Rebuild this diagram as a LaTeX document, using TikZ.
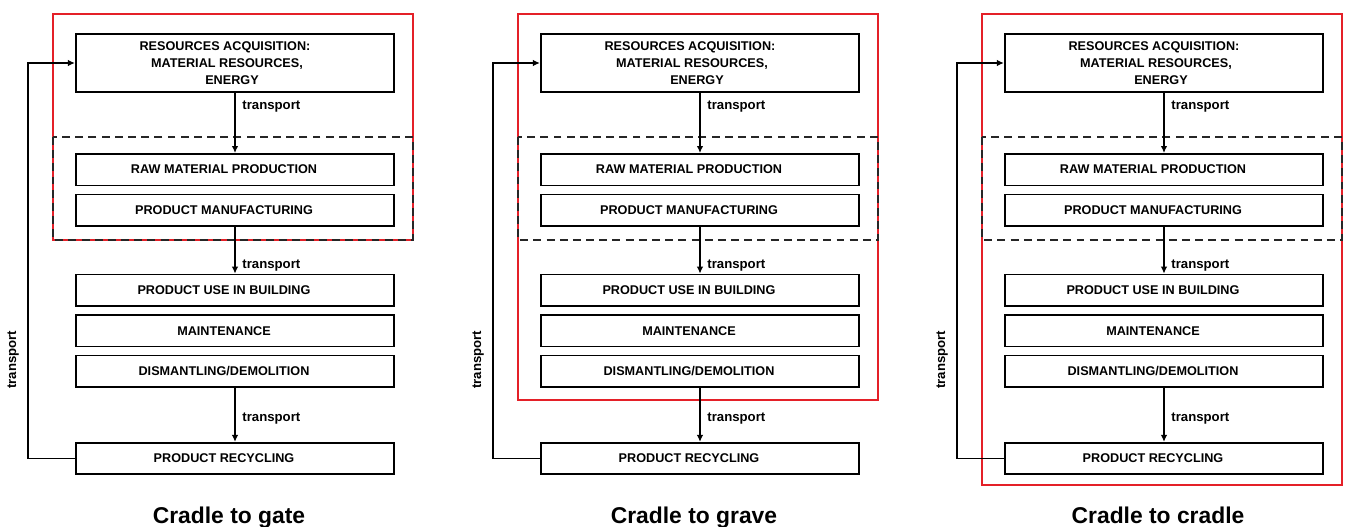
\documentclass[tikz,border=0pt]{standalone}
\usepackage{fontspec}
\setmainfont{Liberation Sans}
\usepackage{xcolor}
\usepackage{tikz}
\usetikzlibrary{arrows.meta,positioning,calc}

\definecolor{lcared}{RGB}{228,32,40}

\begin{document}
\begin{tikzpicture}[node distance=0.15cm,
    every node/.style={font=\bfseries\fontsize{7.2}{9.8}\selectfont},
    stage/.style={draw, line width=0.9pt, minimum width=6.37cm, minimum height=0.63cm, inner sep=1pt, align=center},
    offset/.style={execute at end node={\rule{0.44cm}{0pt}}},
    flow/.style={line width=0.8pt, -{Latex[length=1.4mm,width=1.3mm]}},
    lbl/.style={font=\bfseries\fontsize{7.5}{8}\selectfont, inner sep=1pt},
    limit/.style={draw=lcared, line width=1.1pt},
    phase/.style={draw=black!85, line width=1.2pt, dash pattern=on 4.5pt off 3pt},
    caption/.style={font=\bfseries\fontsize{13}{15}\selectfont, anchor=base}]
  \useasboundingbox (0,0) rectangle (26.92,-10.54);

  % cradle to gate
  \node (res1) [stage, minimum height=1.17cm] at (4.70,-1.26) {RESOURCES ACQUISITION:\rule{0.4cm}{0pt}\\ MATERIAL RESOURCES,\rule{0.32cm}{0pt}\\ ENERGY\rule{0.12cm}{0pt}};
  \node (raw1) [stage, offset, below=1.2cm of res1] {RAW MATERIAL PRODUCTION};
  \node (man1) [stage, offset, below=of raw1] {PRODUCT MANUFACTURING};
  \node (use1) [stage, offset, below=0.94cm of man1] {PRODUCT USE IN BUILDING};
  \node (mnt1) [stage, offset, below=of use1] {MAINTENANCE};
  \node (dem1) [stage, offset, below=of mnt1] {DISMANTLING/DEMOLITION};
  \node (rec1) [stage, offset, below=1.08cm of dem1] {PRODUCT RECYCLING};
  \node (cap1) [caption] at ($(rec1.south)+(-0.12,-0.96)$) {Cradle to gate};
  \draw[limit] ($(res1.north west)+(-0.44,0.38)$) rectangle ($(man1.south east)+(0.36,-0.27)$);
  \draw[phase] ($(raw1.north west)+(-0.44,0.32)$) rectangle ($(man1.south east)+(0.36,-0.27)$);
  \draw[flow] (res1) -- node[lbl, pos=0.22, right=0.1cm] {transport} (raw1);
  \draw[flow] (man1) -- node[lbl, pos=0.83, right=0.1cm] {transport} (use1);
  \draw[flow] (dem1) -- node[lbl, pos=0.56, right=0.1cm] {transport} (rec1);
  \draw[flow] (rec1.west) -- ++(-0.94,0) |- node[lbl, pos=0.125, rotate=90, anchor=south, inner ysep=4.8pt] {transport} (res1.west);

  % cradle to grave
  \node (res2) [stage, minimum height=1.17cm] at (14.00,-1.26) {RESOURCES ACQUISITION:\rule{0.4cm}{0pt}\\ MATERIAL RESOURCES,\rule{0.32cm}{0pt}\\ ENERGY\rule{0.12cm}{0pt}};
  \node (raw2) [stage, offset, below=1.2cm of res2] {RAW MATERIAL PRODUCTION};
  \node (man2) [stage, offset, below=of raw2] {PRODUCT MANUFACTURING};
  \node (use2) [stage, offset, below=0.94cm of man2] {PRODUCT USE IN BUILDING};
  \node (mnt2) [stage, offset, below=of use2] {MAINTENANCE};
  \node (dem2) [stage, offset, below=of mnt2] {DISMANTLING/DEMOLITION};
  \node (rec2) [stage, offset, below=1.08cm of dem2] {PRODUCT RECYCLING};
  \node (cap2) [caption] at ($(rec2.south)+(-0.12,-0.96)$) {Cradle to grave};
  \draw[limit] ($(res2.north west)+(-0.44,0.38)$) rectangle ($(dem2.south east)+(0.36,-0.24)$);
  \draw[phase] ($(raw2.north west)+(-0.44,0.32)$) rectangle ($(man2.south east)+(0.36,-0.27)$);
  \draw[flow] (res2) -- node[lbl, pos=0.22, right=0.1cm] {transport} (raw2);
  \draw[flow] (man2) -- node[lbl, pos=0.83, right=0.1cm] {transport} (use2);
  \draw[flow] (dem2) -- node[lbl, pos=0.56, right=0.1cm] {transport} (rec2);
  \draw[flow] (rec2.west) -- ++(-0.94,0) |- node[lbl, pos=0.125, rotate=90, anchor=south, inner ysep=4.8pt] {transport} (res2.west);

  % cradle to cradle
  \node (res3) [stage, minimum height=1.17cm] at (23.28,-1.26) {RESOURCES ACQUISITION:\rule{0.4cm}{0pt}\\ MATERIAL RESOURCES,\rule{0.32cm}{0pt}\\ ENERGY\rule{0.12cm}{0pt}};
  \node (raw3) [stage, offset, below=1.2cm of res3] {RAW MATERIAL PRODUCTION};
  \node (man3) [stage, offset, below=of raw3] {PRODUCT MANUFACTURING};
  \node (use3) [stage, offset, below=0.94cm of man3] {PRODUCT USE IN BUILDING};
  \node (mnt3) [stage, offset, below=of use3] {MAINTENANCE};
  \node (dem3) [stage, offset, below=of mnt3] {DISMANTLING/DEMOLITION};
  \node (rec3) [stage, offset, below=1.08cm of dem3] {PRODUCT RECYCLING};
  \node (cap3) [caption] at ($(rec3.south)+(-0.12,-0.96)$) {Cradle to cradle};
  \draw[limit] ($(res3.north west)+(-0.44,0.38)$) rectangle ($(rec3.south east)+(0.36,-0.20)$);
  \draw[phase] ($(raw3.north west)+(-0.44,0.32)$) rectangle ($(man3.south east)+(0.36,-0.27)$);
  \draw[flow] (res3) -- node[lbl, pos=0.22, right=0.1cm] {transport} (raw3);
  \draw[flow] (man3) -- node[lbl, pos=0.83, right=0.1cm] {transport} (use3);
  \draw[flow] (dem3) -- node[lbl, pos=0.56, right=0.1cm] {transport} (rec3);
  \draw[flow] (rec3.west) -- ++(-0.94,0) |- node[lbl, pos=0.125, rotate=90, anchor=south, inner ysep=4.8pt] {transport} (res3.west);
\end{tikzpicture}
\end{document}
